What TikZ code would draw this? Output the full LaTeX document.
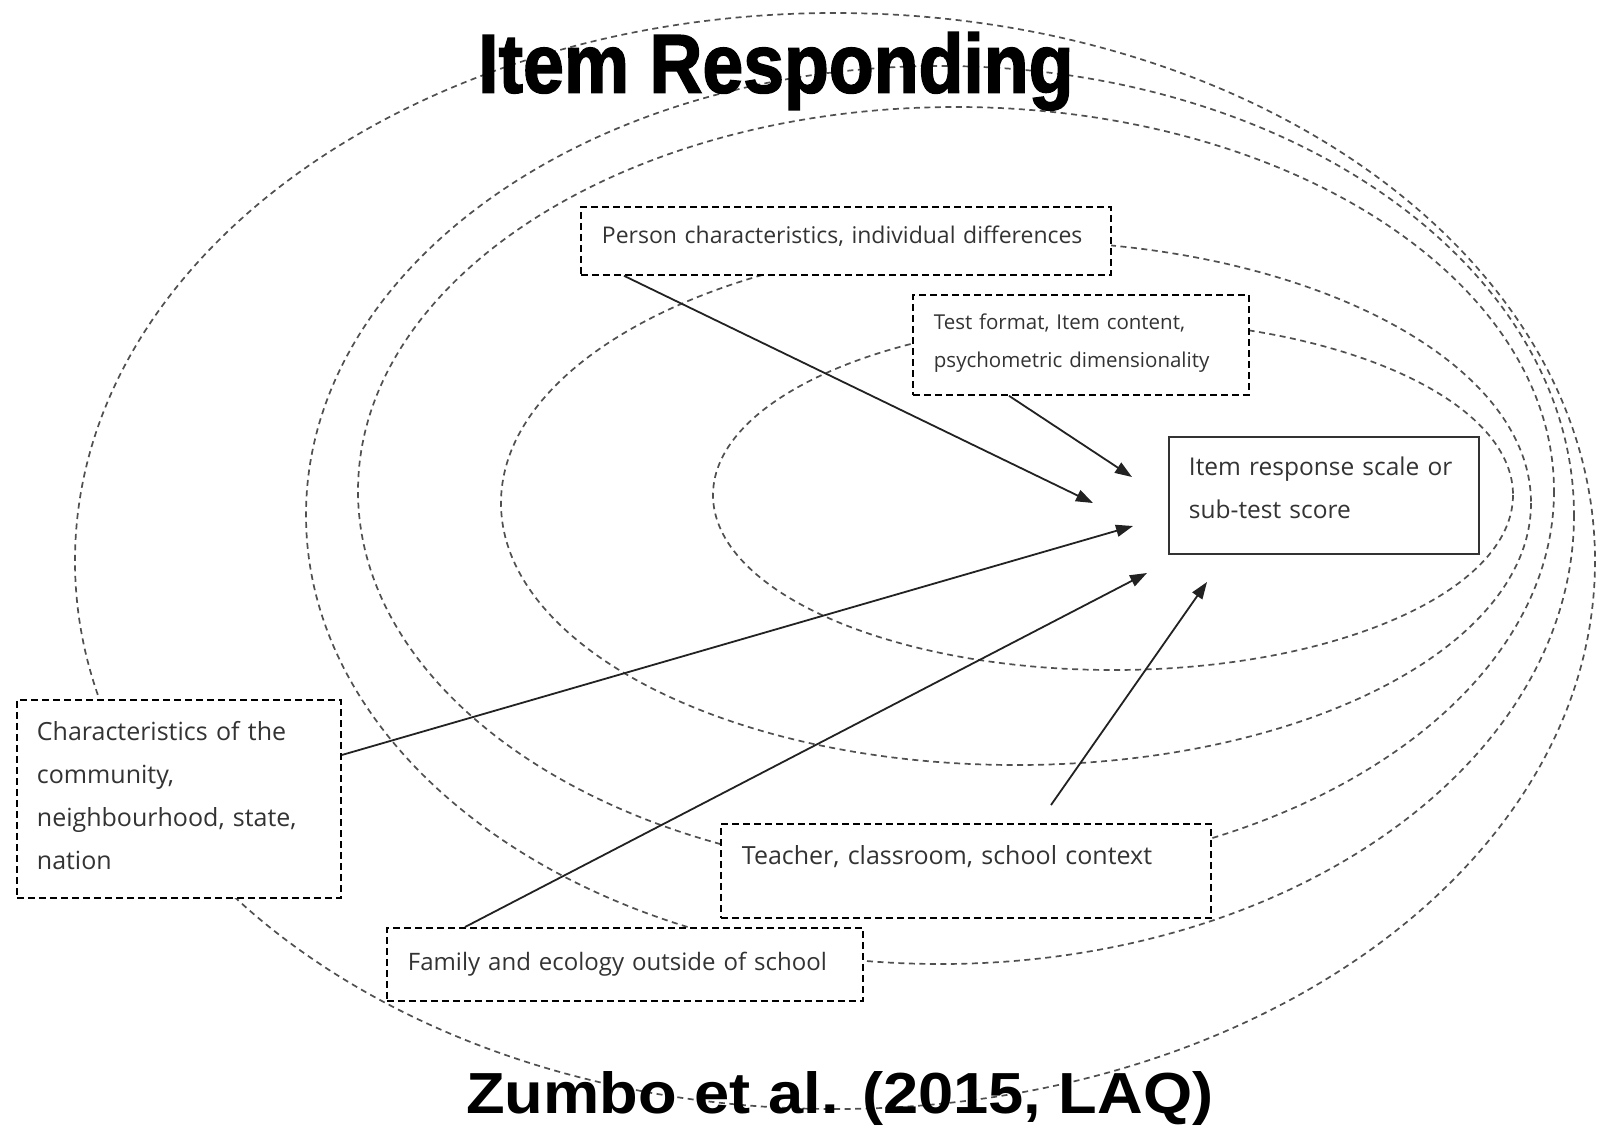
\documentclass[tikz,border=0pt]{standalone}
\usepackage{fontspec}
\usepackage{graphicx}
\setmainfont{Open Sans}
\newfontfamily\titlefont[BoldFeatures={FakeBold=2}]{Liberation Sans}
\newfontfamily\citefont{Liberation Sans}
\usetikzlibrary{arrows.meta}
\definecolor{ellgray}{HTML}{505050}
\definecolor{txtgray}{HTML}{333333}
\definecolor{arrgray}{HTML}{222222}
\tikzset{
  ell/.style={draw=ellgray, line width=1.7pt, dash pattern=on 6pt off 4.5pt},
  boxbase/.style={fill=white, anchor=north west, inner ysep=0pt, align=left, text=txtgray},
  dbox/.style={boxbase, draw=black, line width=1.8pt, dash pattern=on 7pt off 4pt},
  sbox/.style={boxbase, draw=txtgray, line width=1.8pt},
  arr/.style={draw=arrgray, line width=1.8pt, -{Triangle[length=17pt,width=12pt]}},
  big/.style={font=\fontsize{25}{43}\selectfont}
}
\begin{document}
\begin{tikzpicture}[x=1pt, y=-1pt]
\fill[white] (0,0) rectangle (1598,1128);
\useasboundingbox (0,0) rectangle (1598,1128);

% nested dashed ovals
\draw[ell] (1113,495) ellipse [x radius=400, y radius=175];
\draw[ell] (1016,503) ellipse [x radius=515, y radius=262];
\draw[ell] (956,491) ellipse [x radius=598, y radius=384];
\draw[ell] (940,515) ellipse [x radius=634, y radius=449];
\draw[ell] (835,561) ellipse [x radius=760, y radius=548];

% boxes
\node[dbox, text width=488pt, inner xsep=21pt, text height=37pt, text depth=31pt,
      font=\fontsize{23}{40}\selectfont] (person) at (580,206)
  {Person characteristics, individual differences};
\node[dbox, text width=294pt, inner xsep=21pt, text height=35pt, text depth=65pt,
      font=\fontsize{20.5}{38}\selectfont] (test) at (912,294)
  {Test format, Item content,\\psychometric dimensionality};
\node[sbox, text width=270pt, inner xsep=20pt, text height=39pt, text depth=78pt,
      font=\fontsize{24.5}{43}\selectfont] (resp) at (1168,436)
  {Item response scale or\\sub-test score};
\node[dbox, big, text width=284pt, inner xsep=20pt, text height=41pt, text depth=157pt] (comm) at (16,699)
  {Characteristics of the\\community,\\neighbourhood, state,\\nation};
\node[dbox, big, text width=448pt, inner xsep=21pt, text height=41pt, text depth=53pt] (teach) at (720,823)
  {Teacher, classroom, school context};
\node[dbox, text width=434pt, inner xsep=21pt, text height=43pt, text depth=30pt,
      font=\fontsize{24}{43}\selectfont] (family) at (386,927)
  {\mbox{Family and ecology outside of school}};

% arrow end points
\coordinate (t1) at (1093,503);
\coordinate (t2) at (1132,477);
\coordinate (t3) at (1133,526);
\coordinate (t4) at (1147,573);
\coordinate (t5) at (1207,582);
\coordinate (s5) at (1051,805);

\draw[arr] ([xshift=44pt]person.south west) -- (t1);
\draw[arr] ([xshift=97pt]test.south west) -- (t2);
\draw[arr] ([yshift=-56pt]comm.north east) -- (t3);
\draw[arr] ([xshift=79pt]family.north west) -- (t4);
\draw[arr] (s5) -- (t5);

% headings
\node[anchor=north west, inner sep=0pt] (title) at (478,32)
  {\resizebox*{595pt}{78pt}{\titlefont\bfseries Item Responding}};
\node[anchor=north west, inner sep=0pt] (cite) at (466,1071)
  {\resizebox*{747pt}{54pt}{\citefont\bfseries Zumbo et al. (2015, LAQ)}};
\end{tikzpicture}
\end{document}
